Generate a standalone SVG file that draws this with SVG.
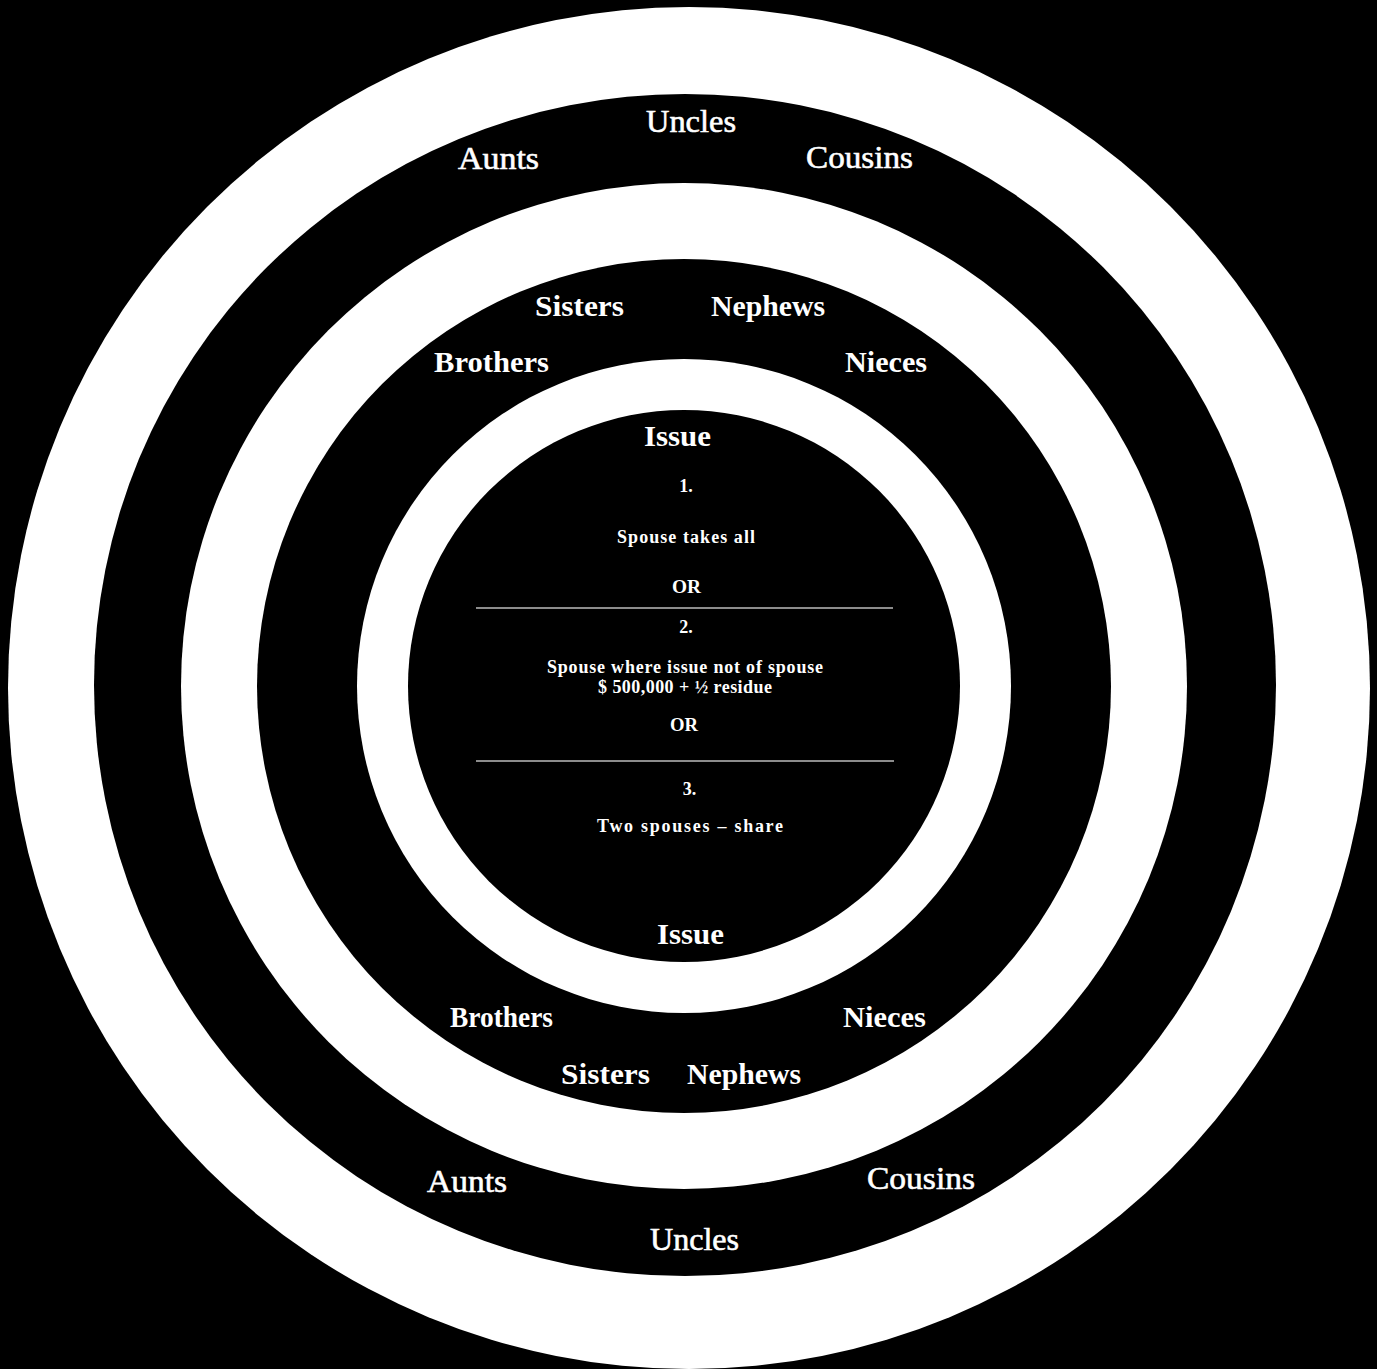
<svg xmlns="http://www.w3.org/2000/svg" width="1377" height="1369" viewBox="0 0 1377 1369">
<style>
.w{fill:#fff}
.b{fill:#000}
text{fill:#fff;font-family:"Liberation Serif","Times New Roman",serif;font-weight:bold;text-anchor:middle}
.lg{font-size:32px;font-weight:normal;stroke:#fff;stroke-width:0.6}
.md{font-size:30px}
.sm{font-size:18px}
.rule{stroke:#bbb;stroke-width:1.5}
</style>
<rect id="background" x="0" y="0" width="1377" height="1369" fill="#000"/>
<g id="rings">
<circle id="ring1" class="w" cx="689" cy="688" r="681"/>
<circle id="ring2" class="b" cx="685" cy="685" r="591"/>
<circle id="ring3" class="w" cx="684" cy="686" r="503"/>
<circle id="ring4" class="b" cx="684" cy="686" r="427"/>
<circle id="ring5" class="w" cx="684" cy="686" r="327"/>
<circle id="ring6" class="b" cx="684" cy="686" r="276"/>
</g>
<g id="outer-labels">
<text class="lg" x="691" y="132" textLength="90" lengthAdjust="spacingAndGlyphs">Uncles</text>
<text class="lg" x="498.5" y="169" textLength="81" lengthAdjust="spacingAndGlyphs">Aunts</text>
<text class="lg" x="859.5" y="168" textLength="107" lengthAdjust="spacingAndGlyphs">Cousins</text>
<text class="lg" x="467" y="1192" textLength="80" lengthAdjust="spacingAndGlyphs">Aunts</text>
<text class="lg" x="921" y="1189" textLength="108" lengthAdjust="spacingAndGlyphs">Cousins</text>
<text class="lg" x="694.5" y="1250" textLength="89" lengthAdjust="spacingAndGlyphs">Uncles</text>
</g>
<g id="middle-labels">
<text class="md" x="579.5" y="316" textLength="89" lengthAdjust="spacingAndGlyphs">Sisters</text>
<text class="md" x="768" y="316" textLength="114" lengthAdjust="spacingAndGlyphs">Nephews</text>
<text class="md" x="491.5" y="372" textLength="115" lengthAdjust="spacingAndGlyphs">Brothers</text>
<text class="md" x="886" y="372" textLength="82" lengthAdjust="spacingAndGlyphs">Nieces</text>
<text class="md" x="501.5" y="1027" textLength="103" lengthAdjust="spacingAndGlyphs">Brothers</text>
<text class="md" x="884.5" y="1027" textLength="83" lengthAdjust="spacingAndGlyphs">Nieces</text>
<text class="md" x="605.5" y="1084" textLength="89" lengthAdjust="spacingAndGlyphs">Sisters</text>
<text class="md" x="744" y="1084" textLength="114" lengthAdjust="spacingAndGlyphs">Nephews</text>
</g>
<g id="inner">
<text class="md" x="677.5" y="446" textLength="67" lengthAdjust="spacingAndGlyphs">Issue</text>
<text class="sm" x="686" y="492">1.</text>
<text class="sm" x="686" y="543" textLength="138" lengthAdjust="spacing">Spouse takes all</text>
<text class="sm" x="686.5" y="593" textLength="29" lengthAdjust="spacingAndGlyphs">OR</text>
<line class="rule" x1="476" y1="608" x2="893" y2="608"/>
<text class="sm" x="686" y="633">2.</text>
<text class="sm" x="685" y="673" textLength="276" lengthAdjust="spacing">Spouse where issue not of spouse</text>
<text class="sm" x="685" y="693" textLength="174" lengthAdjust="spacing">$ 500,000 + ½ residue</text>
<text class="sm" x="684" y="731" textLength="28" lengthAdjust="spacingAndGlyphs">OR</text>
<line class="rule" x1="476" y1="761" x2="894" y2="761"/>
<text class="sm" x="689.5" y="795">3.</text>
<text class="sm" x="690" y="832" textLength="186" lengthAdjust="spacing">Two spouses – share</text>
<text class="md" x="690.5" y="944" textLength="67" lengthAdjust="spacingAndGlyphs">Issue</text>
</g>
</svg>
